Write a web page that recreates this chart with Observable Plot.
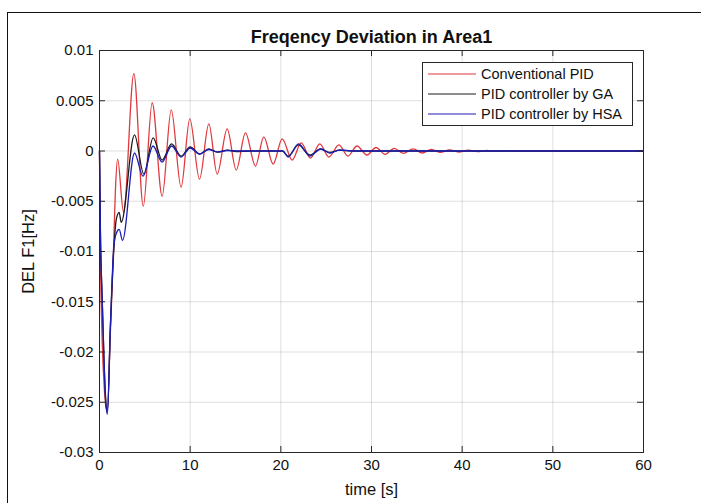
<!DOCTYPE html>
<html>
<head>
<meta charset="utf-8">
<script src="https://cdn.jsdelivr.net/npm/d3@7"></script>
<script src="https://cdn.jsdelivr.net/npm/@observablehq/plot@0.6"></script>
<style>
  html, body { margin: 0; padding: 0; background: #fff; overflow: hidden; }
  #wrap { position: relative; width: 701px; height: 503px; overflow: hidden; font-family: "Liberation Sans", Arial, sans-serif; }
  #chart svg { display: block; }
  #border { position: absolute; left: 7px; top: 12px; width: 760px; height: 560px; border: 1.5px solid #111; box-sizing: border-box; pointer-events: none; }
  #legend { position: absolute; left: 422px; top: 62px; width: 211px; height: 64px; background: #fff; border: 1px solid #262626; box-sizing: border-box; }
  .row { position: absolute; left: 5px; height: 20px; display: flex; align-items: center; font-size: 14.5px; color: #111; white-space: nowrap; }
  .row svg { margin-right: 5px; }
</style>
</head>
<body>
<div id="wrap">
  <div id="border"></div>
  <div id="chart"></div>
  <div id="legend"></div>
</div>
<script>
// ---- data ----
const seriesNames = ["Conventional PID", "PID controller by GA", "PID controller by HSA"];
const seriesColors = ["#e0393d", "#1c1c1c", "#1d1db5"];

const tConv = [0, 0.05, 0.15, 0.3, 0.5, 0.7, 0.87, 1.2, 1.54, 1.75, 2.0, 2.65, 3.79, 4.83, 5.81, 6.91, 7.91, 9.0, 9.96, 11.03, 12.06, 12.98, 14.08, 15.08, 16.1, 17.2, 18.12, 19.15, 20.15, 21.25, 22.24, 23.27, 24.3, 25.3, 26.4, 27.4, 28.4, 29.5, 30.5, 31.5, 32.5, 33.5, 34.6, 35.6, 36.6, 37.6, 38.6, 39.6, 40.7, 41.7, 42.7, 43.7, 44.8, 45.8, 47, 60];
const vConv = [0, -0.007, -0.0135, -0.019, -0.0232, -0.0254, -0.0258, -0.018, -0.01, -0.004, -0.0008, -0.0061, 0.0077, -0.0055, 0.0048, -0.0045, 0.0041, -0.0036, 0.0032, -0.0028, 0.0027, -0.0023, 0.0022, -0.0019, 0.0018, -0.0015, 0.0014, -0.0013, 0.0012, -0.0009, 0.0008, -0.0007, 0.0007, -0.0006, 0.0006, -0.0005, 0.0005, -0.0004, 0.00035, -0.00033, 0.00027, -0.00024, 0.00022, -0.0002, 0.00017, -0.00014, 0.00012, -0.0001, 0.00008, -0.00007, 0.00005, -0.00004, 0.00003, -0.00002, 0, 0];

const tGA = [0, 0.1, 0.29, 0.5, 0.66, 0.87, 1.2, 1.6, 1.85, 2.17, 2.4, 3.86, 4.89, 5.92, 6.9, 7.95, 9.0, 10.0, 11.05, 12.05, 13.05, 14.1, 15.1, 16.5, 20.2, 20.8, 21.95, 23.2, 24.4, 25.4, 26.5, 28, 60];
const vGA = [0, -0.008, -0.0145, -0.0208, -0.0243, -0.026, -0.0175, -0.0095, -0.0068, -0.0061, -0.0071, 0.0016, -0.0023, 0.0013, -0.0009, 0.0007, -0.0005, 0.0004, -0.0003, 0.0002, -0.00012, 0.00008, -0.00005, 0, 0, -0.0005, 0.0006, -0.0004, 0.0002, -0.00015, 0.00008, 0, 0];

const tHSA = [0, 0.1, 0.29, 0.5, 0.66, 0.87, 1.2, 1.58, 1.85, 2.17, 2.54, 3.86, 4.8, 5.9, 6.9, 7.95, 9.0, 10.0, 11.05, 12.05, 13.05, 14.1, 15.5, 20.2, 20.8, 21.95, 23.2, 24.4, 25.4, 26.5, 28, 60];
const vHSA = [0, -0.008, -0.0146, -0.021, -0.0246, -0.0262, -0.0175, -0.0095, -0.0082, -0.0078, -0.0089, -0.0002, -0.0025, 0.0005, -0.0011, 0.0005, -0.0006, 0.0003, -0.0003, 0.00015, -0.0001, 0.00005, 0, 0, -0.0006, 0.0007, -0.0005, 0.0002, -0.0002, 0.0001, 0, 0];

const xTicks = [0, 10, 20, 30, 40, 50, 60];
const xTickLabels = ["0", "10", "20", "30", "40", "50", "60"];
const yTicks = [-0.03, -0.025, -0.02, -0.015, -0.01, -0.005, 0, 0.005, 0.01];
const yTickLabels = ["-0.03", "-0.025", "-0.02", "-0.015", "-0.01", "-0.005", "0", "0.005", "0.01"];

const titleText = "Freqency Deviation in Area1";
const xLabel = "time [s]";
const yLabel = "DEL F1[Hz]";

// ---- build ----
const toRows = (ts, vs) => ts.map((t, i) => ({t, v: vs[i]}));
const seriesData = [toRows(tConv, vConv), toRows(tGA, vGA), toRows(tHSA, vHSA)];
const xFmt = new Map(xTicks.map((d, i) => [d, xTickLabels[i]]));
const yFmt = new Map(yTicks.map((d, i) => [d, yTickLabels[i]]));

const W = 701, H = 503, mL = 99, mR = 58, mT = 50, mB = 51;
const fw = W - mL - mR, fh = H - mT - mB;
const axisColor = "#262626";

const chart = Plot.plot({
  width: W, height: H,
  marginLeft: mL, marginRight: mR, marginTop: mT, marginBottom: mB,
  x: {domain: [0, 60]},
  y: {domain: [-0.03, 0.01]},
  style: {fontFamily: "'Liberation Sans', Arial, sans-serif", background: "transparent", color: "#111"},
  marks: [
    Plot.gridX(xTicks, {stroke: "#000", strokeOpacity: 0.13}),
    Plot.gridY(yTicks, {stroke: "#000", strokeOpacity: 0.13}),
    ...seriesData.map((d, i) => Plot.line(d, {x: "t", y: "v", stroke: seriesColors[i], strokeWidth: 1.3, curve: "monotone-x"})),
    Plot.frame({stroke: axisColor, strokeWidth: 1}),
    Plot.tickY(yTicks, {y: d => d, insetRight: fw - 6, stroke: axisColor}),
    Plot.tickY(yTicks, {y: d => d, insetLeft: fw - 6, stroke: axisColor}),
    Plot.tickX(xTicks, {x: d => d, insetTop: fh - 6, stroke: axisColor}),
    Plot.tickX(xTicks, {x: d => d, insetBottom: fh - 6, stroke: axisColor}),
    Plot.axisX(xTicks, {tickSize: 0, tickPadding: 7, fontSize: 15, label: null, tickFormat: d => xFmt.get(d)}),
    Plot.axisY(yTicks, {tickSize: 0, tickPadding: 6, fontSize: 15, label: null, tickFormat: d => yFmt.get(d)}),
    Plot.text([titleText], {frameAnchor: "top", lineAnchor: "middle", textAnchor: "middle", dy: -13, text: d => d, fontSize: 18, fontWeight: "bold"}),
    Plot.text([xLabel], {frameAnchor: "bottom", lineAnchor: "middle", textAnchor: "middle", dy: 37, text: d => d, fontSize: 16.5}),
    Plot.text([yLabel], {frameAnchor: "left", lineAnchor: "middle", textAnchor: "middle", dx: -71, rotate: -90, text: d => d, fontSize: 16.5})
  ]
});
document.getElementById("chart").appendChild(chart);

// legend
const legend = document.getElementById("legend");
const rowTops = [1, 21, 41];
seriesNames.forEach((name, i) => {
  const row = document.createElement("div");
  row.className = "row";
  row.style.top = rowTops[i] + "px";
  row.innerHTML = `<svg width="48" height="4"><line x1="0" x2="48" y1="2" y2="2" stroke="${seriesColors[i]}" stroke-width="1.2"/></svg><span>${name}</span>`;
  legend.appendChild(row);
});
</script>
</body>
</html>
